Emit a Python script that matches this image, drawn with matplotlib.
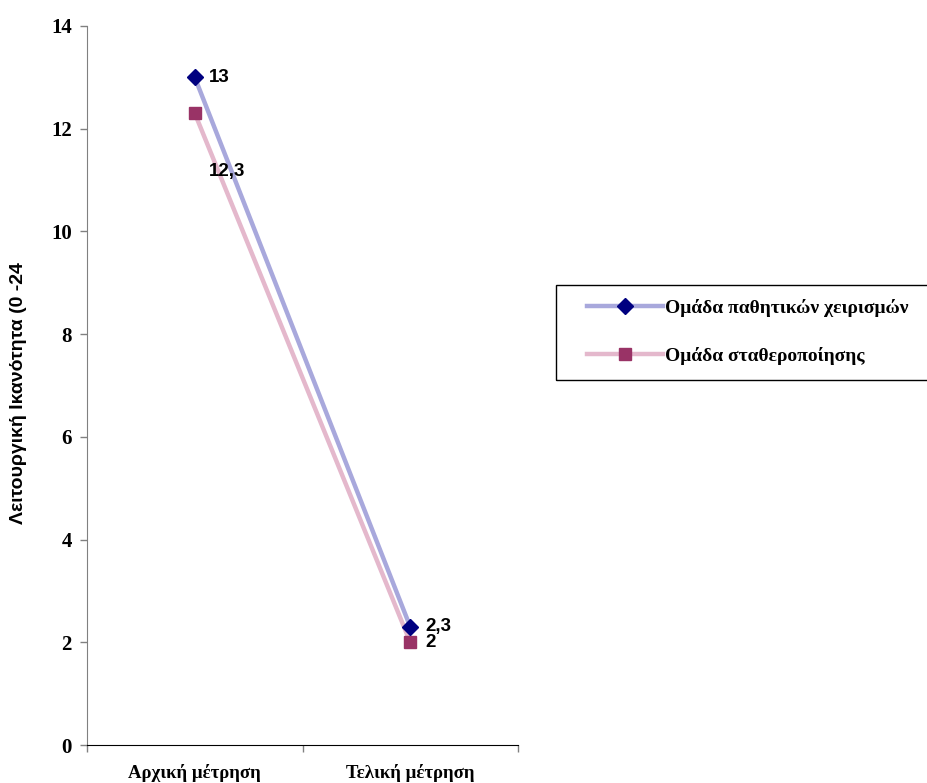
"""
Functional ability before/after, two groups
"""
import matplotlib.pyplot as plt
from matplotlib.patches import Rectangle

# data
categories = ['Αρχική μέτρηση', 'Τελική μέτρηση']
passive = [13, 2.3]
stabil = [12.3, 2]
passive_labels = ['13', '2,3']
stabil_labels = ['12,3', '2']
yticks = [0, 2, 4, 6, 8, 10, 12, 14]

fig = plt.figure(figsize=(9.27, 7.83), dpi=100)
ax = fig.add_axes([0.0939, 0.0485, 0.4649, 0.9183])

xs = [0.5, 1.5]
ax.plot(xs, passive, color='#a8a8dc', lw=3.2, marker='D', ms=8.5,
        mfc='#000080', mec='#000080', label='Ομάδα παθητικών χειρισμών', zorder=3)
ax.plot(xs, stabil, color='#e4b8cc', lw=3.2, marker='s', ms=8,
        mfc='#993366', mec='#993366', label='Ομάδα σταθεροποίησης', zorder=2)

# data labels
lab_font = dict(family='Liberation Sans', weight='bold', size=13.5)
ax.annotate(passive_labels[0], (xs[0], passive[0]), xytext=(14, 0),
            textcoords='offset pixels', va='center', **lab_font)
ax.annotate(stabil_labels[0], (xs[0], stabil[0]), xytext=(14, -58),
            textcoords='offset pixels', va='center', **lab_font)
ax.annotate(passive_labels[1], (xs[1], passive[1]), xytext=(15, 0),
            textcoords='offset pixels', va='center', **lab_font)
ax.annotate(stabil_labels[1], (xs[1], stabil[1]), xytext=(15, 0),
            textcoords='offset pixels', va='center', **lab_font)

ax.set_xlim(0, 2)
ax.set_ylim(0, 14)
ax.set_yticks(yticks)
ax.set_yticklabels([str(v) for v in yticks], family='Liberation Serif',
                   weight='bold', fontsize=15)
ax.set_xticks([0, 1, 2])
ax.set_xticklabels([])
ax.set_xticks(xs, minor=True)
ax.set_xticklabels(categories, minor=True, family='Liberation Serif',
                   weight='bold', fontsize=13.5)
ax.tick_params(axis='x', which='minor', length=0, pad=13.5)
ax.tick_params(axis='both', which='major', length=5, width=1, color='#808080')
ax.tick_params(axis='y', pad=6)

for s in ['top', 'right']:
    ax.spines[s].set_visible(False)
ax.spines['left'].set_color('#808080')
ax.spines['bottom'].set_color('#000000')

fig.text(19 / 927, 0.5 - 2 / 783, 'Λειτουργική Ικανότητα (0 -24',
         family='Liberation Sans', weight='bold', fontsize=14, rotation=90,
         ha='center', va='center')

# legend box (runs off the right edge in the original)
fig.patches.append(Rectangle((556 / 927, 1 - 380 / 783), 400 / 927, 95 / 783,
                             transform=fig.transFigure, fill=False,
                             edgecolor='black', lw=1))
leg = fig.legend(loc='center left', bbox_to_anchor=(587 / 927, 1 - 332 / 783),
                 prop=dict(family='Liberation Serif', weight='bold', size=14),
                 frameon=False, handlelength=3.9, handletextpad=0.1,
                 labelspacing=1.55, borderpad=0, borderaxespad=0)

fig.savefig('out.png', dpi=100)
